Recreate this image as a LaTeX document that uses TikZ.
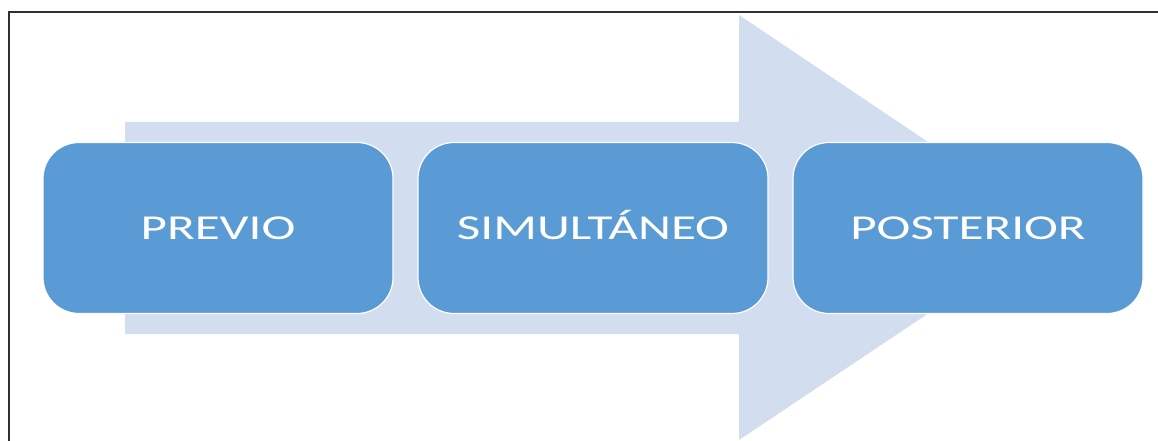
\documentclass[tikz,border=0pt]{standalone}
\usepackage{fontspec}
\setmainfont{Carlito}
\definecolor{arrowfill}{HTML}{D2DEEF}
\definecolor{boxfill}{HTML}{5B9BD5}
\definecolor{framecol}{HTML}{303030}
\tikzset{
  stage/.style={draw=white, line width=1.2pt, fill=boxfill, rounded corners=36pt,
    minimum width=350pt, minimum height=171pt, inner sep=0pt, text=white,
    text height=23pt, text depth=0pt,
    font=\fontsize{35pt}{40pt}\selectfont},
}
\newcommand{\wide}[1]{\scalebox{1.46}[1]{#1}}
\begin{document}
\begin{tikzpicture}[x=1pt,y=-1pt]
\useasboundingbox (0,0) rectangle (1158,441);
\fill[white] (0,0) rectangle (1158,441);
\fill[arrowfill] (125,122) -- (739,122) -- (739,15) -- (1056,228) -- (739,440) -- (739,334) -- (125,334) -- cycle;
\node[stage] (previo) at (218,228) {\wide{PREVIO}};
\node[stage] (simul) at (593,228) {\wide{SIMULTÁNEO}};
\node[stage] (post) at (968,228) {\wide{POSTERIOR}};
\draw[framecol, line width=1.5pt] (9,441) -- (9,12) -- (1158,12);
\end{tikzpicture}
\end{document}
